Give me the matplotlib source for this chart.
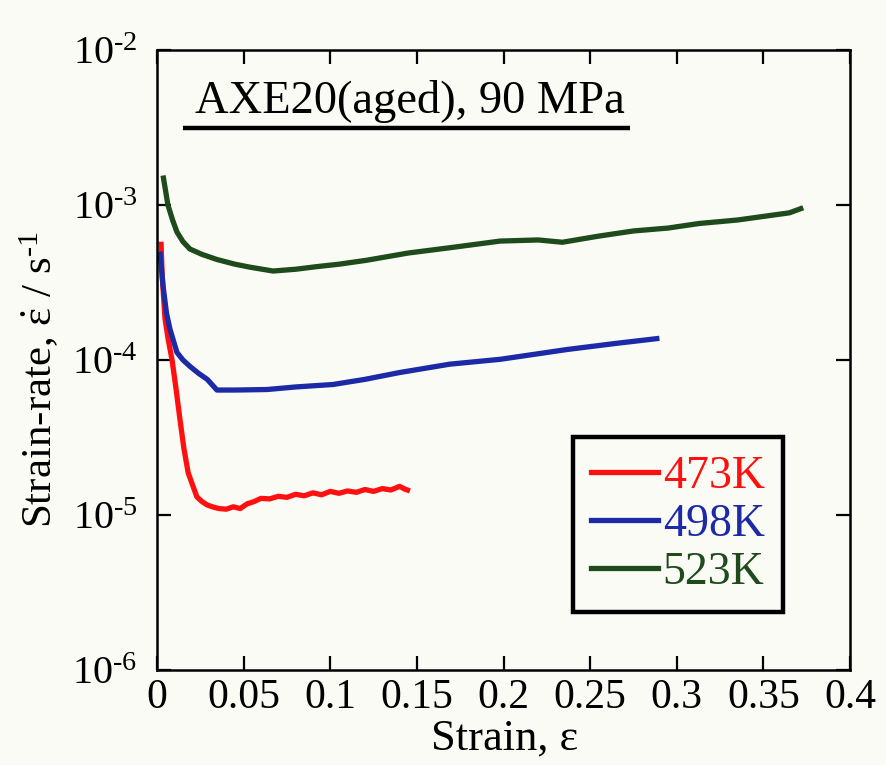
import matplotlib
matplotlib.use("Agg")
import matplotlib.pyplot as plt
from matplotlib.lines import Line2D
from matplotlib.ticker import FixedLocator, FixedFormatter, NullLocator

plt.rcParams['font.family'] = ['Liberation Serif', 'DejaVu Serif']
plt.rcParams['mathtext.fontset'] = 'custom'
plt.rcParams['mathtext.rm'] = 'Liberation Serif'
plt.rcParams['mathtext.it'] = 'Liberation Serif'
plt.rcParams['mathtext.bf'] = 'Liberation Serif:bold'

# ---- data ----
strain_473 = [0.0023, 0.0030, 0.0046, 0.0065, 0.0087, 0.0110, 0.0133, 0.0155, 0.0180,
              0.0230, 0.0260, 0.0290, 0.0330, 0.0360, 0.0400, 0.0440, 0.0480, 0.0520,
              0.0560, 0.0600, 0.0650, 0.0700, 0.0750, 0.0800, 0.0850, 0.0900, 0.0950,
              0.1000, 0.1050, 0.1100, 0.1150, 0.1200, 0.1250, 0.1300, 0.1350, 0.1400,
              0.1430, 0.1460]
rate_473 = [5.8e-4, 3.5e-4, 1.85e-4, 1.35e-4, 1.0e-4, 6.5e-5, 4.1e-5, 2.7e-5, 1.87e-5,
            1.31e-5, 1.22e-5, 1.16e-5, 1.12e-5, 1.10e-5, 1.09e-5, 1.13e-5, 1.10e-5, 1.18e-5,
            1.22e-5, 1.28e-5, 1.27e-5, 1.32e-5, 1.30e-5, 1.36e-5, 1.33e-5, 1.39e-5, 1.35e-5,
            1.42e-5, 1.38e-5, 1.43e-5, 1.40e-5, 1.46e-5, 1.42e-5, 1.48e-5, 1.45e-5, 1.53e-5,
            1.47e-5, 1.43e-5]

strain_498 = [0.0017, 0.0035, 0.0055, 0.0075, 0.0115, 0.0150, 0.0190, 0.0240, 0.0290,
              0.0346, 0.0450, 0.0635, 0.0800, 0.1016, 0.1200, 0.1400, 0.1690, 0.1980,
              0.2370, 0.2650, 0.2900]
rate_498 = [5.0e-4, 3.0e-4, 2.0e-4, 1.58e-4, 1.12e-4, 1.0e-4, 9.1e-5, 8.2e-5, 7.5e-5,
            6.4e-5, 6.4e-5, 6.45e-5, 6.7e-5, 6.95e-5, 7.5e-5, 8.3e-5, 9.4e-5, 1.01e-4,
            1.17e-4, 1.28e-4, 1.38e-4]

strain_523 = [0.0035, 0.0063, 0.0090, 0.0115, 0.0150, 0.0190, 0.0260, 0.0346, 0.0450,
              0.0537, 0.0670, 0.0800, 0.0920, 0.1050, 0.1210, 0.1450, 0.1690, 0.1980,
              0.2200, 0.2340, 0.2550, 0.2750, 0.2950, 0.3130, 0.3350, 0.3520, 0.3650,
              0.3730]
rate_523 = [1.55e-3, 1.0e-3, 8.0e-4, 6.7e-4, 5.8e-4, 5.2e-4, 4.8e-4, 4.45e-4, 4.15e-4,
            3.97e-4, 3.75e-4, 3.85e-4, 4.0e-4, 4.15e-4, 4.4e-4, 4.9e-4, 5.3e-4, 5.85e-4,
            5.95e-4, 5.75e-4, 6.3e-4, 6.8e-4, 7.1e-4, 7.6e-4, 8.0e-4, 8.5e-4, 8.9e-4,
            9.6e-4]

series_labels = ['473K', '498K', '523K']
series_colors = ['#ff1010', '#1c2aa8', '#1f4a1c']

x_ticks = [0, 0.05, 0.1, 0.15, 0.2, 0.25, 0.3, 0.35, 0.4]
x_tick_labels = ['0', '0.05', '0.1', '0.15', '0.2', '0.25', '0.3', '0.35', '0.4']
y_ticks = [1e-6, 1e-5, 1e-4, 1e-3, 1e-2]
y_tick_labels = ['$\\mathregular{10^{\u2010' + e + '}}$' for e in ['6', '5', '4', '3', '2']]

title_text = 'AXE20(aged), 90 MPa'

# ---- figure ----
bg = '#fbfbf6'
fig = plt.figure(figsize=(8.86, 7.65), dpi=100, facecolor=bg)
ax = fig.add_axes([157/886, 1-670/765, (850-157)/886, (670-50)/765])
ax.set_facecolor(bg)

lw = 3.8
ax.plot(strain_473, rate_473, color=series_colors[0], lw=lw, solid_capstyle='butt')
ax.plot(strain_498, rate_498, color=series_colors[1], lw=lw, solid_capstyle='butt')
ax.plot(strain_523, rate_523, color=series_colors[2], lw=lw, solid_capstyle='butt')

ax.set_yscale('log')
ax.set_xlim(0, 0.4)
ax.set_ylim(1e-6, 1e-2)

ax.xaxis.set_major_locator(FixedLocator(x_ticks))
ax.xaxis.set_major_formatter(FixedFormatter(x_tick_labels))
ax.yaxis.set_major_locator(FixedLocator(y_ticks))
ax.yaxis.set_major_formatter(FixedFormatter(y_tick_labels))
ax.yaxis.set_minor_locator(NullLocator())
ax.xaxis.set_minor_locator(NullLocator())

ax.tick_params(which='major', direction='in', length=10, width=1.6,
               top=True, right=True, color='black')
ax.tick_params(axis='x', pad=6, labelsize=30)
ax.tick_params(axis='y', pad=14, labelsize=29)
for s in ax.spines.values():
    s.set_linewidth(1.8)

ax.set_xlabel('Strain, ε', fontsize=32)
ax.xaxis.set_label_coords(0.502, -0.078)
ax.set_ylabel('Strain-rate, $\\dot{\\varepsilon}$ / s$^{\u20101}$', fontsize=31)
ax.yaxis.set_label_coords(-0.138, 0.468)

# title with underline
ax.text(0.365, 0.898, title_text, transform=ax.transAxes, fontsize=33.5,
        ha='center', va='baseline')
ax.plot([0.0375, 0.6825], [0.874, 0.874], transform=ax.transAxes, color='black',
        lw=3.2, solid_capstyle='butt')

# legend
handles = [Line2D([], [], color=c, lw=lw) for c in series_colors]
leg = ax.legend(handles, series_labels, loc='upper left',
                bbox_to_anchor=(0.600, 0.376), borderaxespad=0,
                fontsize=33, frameon=True, fancybox=False, framealpha=1,
                edgecolor='black', facecolor=bg, handlelength=1.46,
                handletextpad=0.1, labelspacing=0.12, borderpad=0.4,
                labelcolor=series_colors)
leg.get_frame().set_linewidth(3.2)

fig.savefig('out.png', dpi=100, facecolor=bg)
